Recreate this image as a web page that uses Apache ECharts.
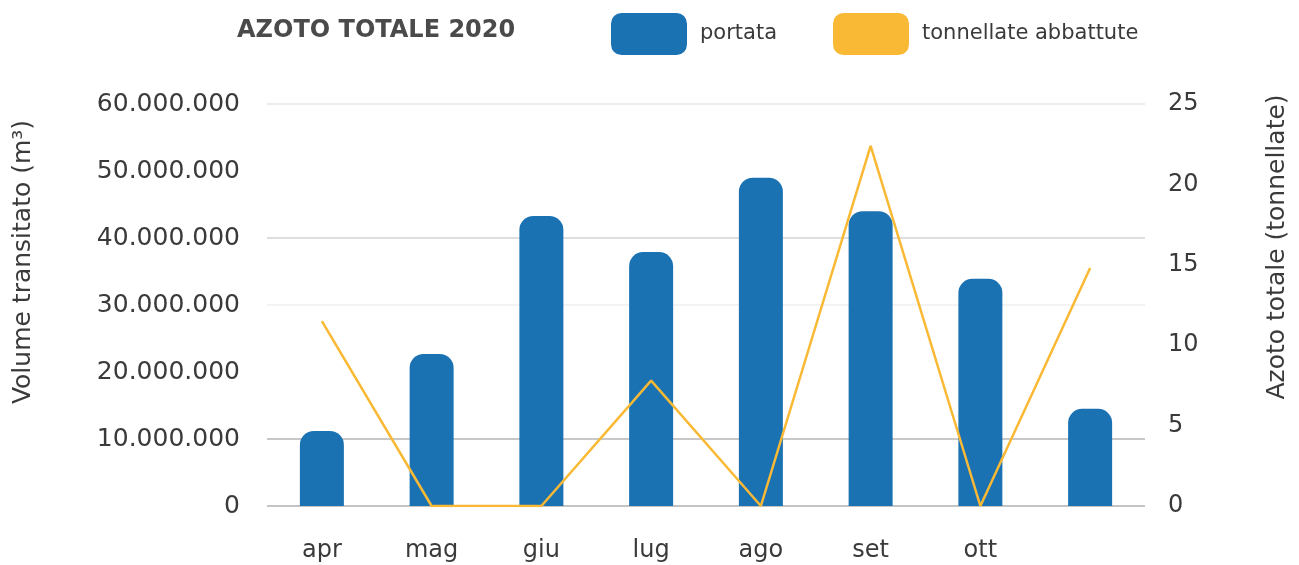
<!DOCTYPE html>
<html>
<head>
<meta charset="utf-8">
<script src="https://cdn.jsdelivr.net/npm/echarts@6/dist/echarts.min.js"></script>
<style>
  html, body { margin: 0; padding: 0; background: #fff; }
  #chart { width: 1299px; height: 565px; }
</style>
</head>
<body>
<div id="chart"></div>
<script>
// mesi (l'ultimo non ha etichetta nell'originale)
const mesi = ['apr', 'mag', 'giu', 'lug', 'ago', 'set', 'ott', ''];
// volume transitato (m3)
const portata = [11200000, 22700000, 43300000, 37900000, 49000000, 44000000, 33900000, 14500000];
// azoto totale abbattuto (tonnellate)
const tonnellate = [11.5, 0, 0, 7.8, 0, 22.4, 0, 14.8];

const blu = '#1b72b3';
const giallo = '#f9b935';
const font = 'DejaVu Sans';

// colori delle linee di griglia per ogni tick (0 -> 60M)
const coloriGriglia = ['#c4c4c4', '#c8c8c8', 'rgba(0,0,0,0)', '#f3f3f3', '#dedede', 'rgba(0,0,0,0)', '#ececec'];

const chart = echarts.init(document.getElementById('chart'));

const option = {
  backgroundColor: '#fff',
  animation: false,
  title: {
    text: 'AZOTO TOTALE 2020',
    left: 232,
    top: 14,
    textStyle: { fontFamily: font, fontSize: 24, fontWeight: 'bold', color: '#4a4a4a' }
  },
  legend: {
    left: 606,
    top: 8,
    icon: 'roundRect',
    itemWidth: 76,
    itemHeight: 42,
    itemGap: 56,
    textStyle: { fontFamily: font, fontSize: 21, color: '#3a3a3a', padding: [0, 0, 0, 8] },
    data: [
      { name: 'portata', itemStyle: { color: blu } },
      { name: 'tonnellate abbattute', itemStyle: { color: giallo } }
    ]
  },
  grid: { left: 267, right: 154, top: 104, bottom: 59, outerBoundsMode: 'none' },
  xAxis: {
    type: 'category',
    data: mesi,
    axisLine: { show: false },
    axisTick: { show: false },
    axisLabel: { fontFamily: font, fontSize: 24, color: '#3a3a3a', margin: 33 }
  },
  yAxis: [
    {
      type: 'value',
      min: 0,
      max: 60000000,
      interval: 10000000,
      name: 'Volume transitato (m³)',
      nameLocation: 'middle',
      nameRotate: 90,
      nameGap: 231,
      nameTextStyle: { fontFamily: font, fontSize: 25, color: '#3a3a3a', padding: [0, 0, 0, 86] },
      axisLine: { show: false },
      axisTick: { show: false },
      axisLabel: {
        fontFamily: font, fontSize: 25, color: '#3a3a3a', margin: 27,
        formatter: (v) => v === 0 ? '0' : v.toString().replace(/\B(?=(\d{3})+(?!\d))/g, '.')
      },
      splitLine: { lineStyle: { color: coloriGriglia, width: 2 } }
    },
    {
      type: 'value',
      min: 0,
      max: 25,
      interval: 5,
      name: 'Azoto totale (tonnellate)',
      nameLocation: 'middle',
      nameRotate: 90,
      nameGap: 120,
      nameTextStyle: { fontFamily: font, fontSize: 25, color: '#3a3a3a', padding: [0, 0, 0, 116] },
      axisLine: { show: false },
      axisTick: { show: false },
      axisLabel: { fontFamily: font, fontSize: 24, color: '#3a3a3a', margin: 23 },
      splitLine: { show: false }
    }
  ],
  series: [
    {
      name: 'portata',
      type: 'bar',
      data: portata,
      barWidth: 44,
      itemStyle: { color: blu, borderRadius: [14, 14, 0, 0] }
    },
    {
      name: 'tonnellate abbattute',
      type: 'line',
      yAxisIndex: 1,
      data: tonnellate,
      symbol: 'none',
      lineStyle: { color: giallo, width: 2.5 },
      itemStyle: { color: giallo }
    }
  ]
};

chart.setOption(option);
window.addEventListener('resize', () => chart.resize());
</script>
</body>
</html>
